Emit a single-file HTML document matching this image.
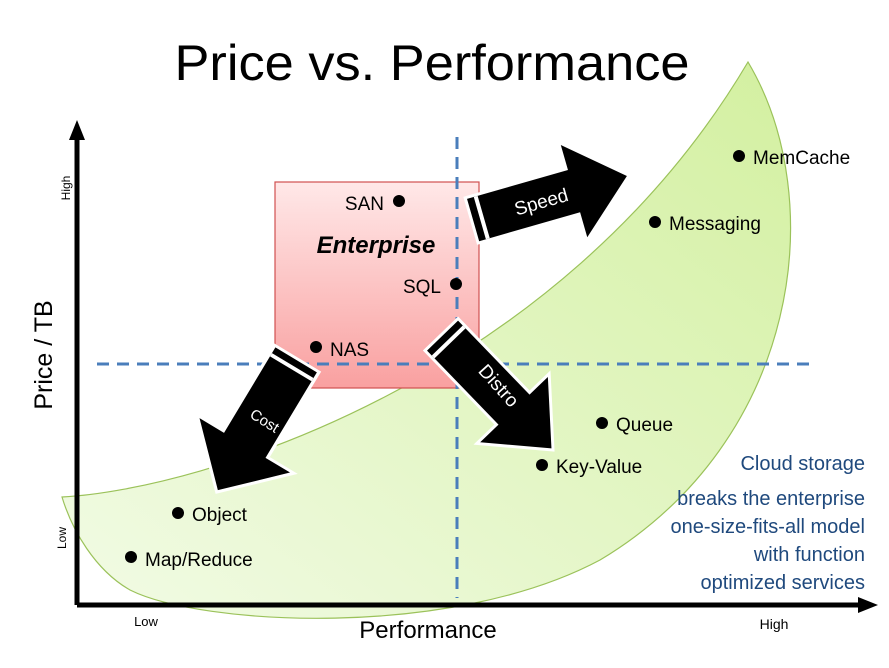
<!DOCTYPE html>
<html><head><meta charset="utf-8"><style>
html,body{margin:0;padding:0;background:#fff;}
svg{display:block;font-family:"Liberation Sans",sans-serif;}
</style></head><body>
<svg width="889" height="668" viewBox="0 0 889 668">
<defs>
<linearGradient id="g" x1="0" y1="1" x2="1" y2="0">
<stop offset="0" stop-color="#f2fbe6"/><stop offset="1" stop-color="#d3f0a0"/>
</linearGradient>
<linearGradient id="r" x1="0" y1="0" x2="0" y2="1">
<stop offset="0" stop-color="#ffe8e8"/><stop offset="1" stop-color="#f9a0a0"/>
</linearGradient>
<g id="arr">
<path d="M-80,-22 L25,-22 L25,-48 L80,0 L25,48 L25,22 L-80,22 Z" fill="#000" stroke="#fff" stroke-width="6" stroke-linejoin="miter"/>
<path d="M-80,-22 L25,-22 L25,-48 L80,0 L25,48 L25,22 L-80,22 Z" fill="#000"/>
<rect x="-73" y="-22" width="4" height="44" fill="#fff"/>
</g>
</defs>
<text x="432" y="80" font-size="50" text-anchor="middle" textLength="515" lengthAdjust="spacingAndGlyphs">Price vs. Performance</text>
<path d="M62,497 C200,490 560,380 748,62 C830,200 800,440 600,560 C450,640 200,625 130,590 C95,570 72,530 62,497 Z" fill="url(#g)" stroke="#9bc25a" stroke-width="1.2"/>
<rect x="275" y="182" width="204" height="206" fill="url(#r)" stroke="#d05050" stroke-width="1.2"/>
<line x1="457" y1="137" x2="457" y2="598" stroke="#4a7ebb" stroke-width="3" stroke-dasharray="12,8"/>
<line x1="97" y1="364" x2="812" y2="364" stroke="#4a7ebb" stroke-width="3" stroke-dasharray="12,8"/>
<line x1="77" y1="605" x2="77" y2="135" stroke="#000" stroke-width="5"/>
<polygon points="77,120 69,140 85,140" fill="#000"/>
<line x1="77" y1="605" x2="862" y2="605" stroke="#000" stroke-width="5"/>
<polygon points="878,605 858,597 858,613" fill="#000"/>
<use href="#arr" transform="translate(550,198) rotate(-16)"/>
<use href="#arr" transform="translate(497,392) rotate(46) scale(0.98)"/>
<use href="#arr" transform="translate(257,425) rotate(121) scale(0.95,1.1)"/>
<text x="0" y="0" font-size="19" fill="#fff" text-anchor="middle" transform="translate(543,208) rotate(-16)">Speed</text>
<text x="0" y="0" font-size="19" fill="#fff" text-anchor="middle" transform="translate(494,390) rotate(48)">Distro</text>
<text x="0" y="0" font-size="15" fill="#fff" text-anchor="middle" transform="translate(262,425) rotate(32)">Cost</text>
<text x="376" y="253" font-size="24" font-weight="bold" font-style="italic" text-anchor="middle">Enterprise</text>
<g fill="#000">
<circle cx="399" cy="201" r="6"/><circle cx="456" cy="284" r="6"/><circle cx="316" cy="347" r="6"/>
<circle cx="739" cy="156" r="6"/><circle cx="655" cy="222" r="6"/><circle cx="602" cy="423" r="6"/>
<circle cx="542" cy="465" r="6"/><circle cx="178" cy="513" r="6"/><circle cx="131" cy="557" r="6"/>
</g>
<g font-size="19">
<text x="384" y="210" text-anchor="end">SAN</text>
<text x="441" y="293" text-anchor="end">SQL</text>
<text x="330" y="356">NAS</text>
<text x="753" y="164">MemCache</text>
<text x="669" y="230">Messaging</text>
<text x="616" y="431">Queue</text>
<text x="556" y="473">Key-Value</text>
<text x="192" y="521">Object</text>
<text x="145" y="566">Map/Reduce</text>
</g>
<g font-size="20" fill="#1f497d" text-anchor="end">
<text x="865" y="470">Cloud storage</text>
<text x="865" y="505">breaks the enterprise</text>
<text x="865" y="533">one-size-fits-all model</text>
<text x="865" y="561">with function</text>
<text x="865" y="589">optimized services</text>
</g>
<text x="0" y="0" font-size="25" text-anchor="middle" transform="translate(52,355) rotate(-90)">Price / TB</text>
<text x="428" y="638" font-size="24" text-anchor="middle">Performance</text>
<text x="146" y="626" font-size="13" text-anchor="middle">Low</text>
<text x="774" y="629" font-size="14" text-anchor="middle">High</text>
<text x="0" y="0" font-size="12" text-anchor="middle" transform="translate(70,188) rotate(-90)">High</text>
<text x="0" y="0" font-size="12" text-anchor="middle" transform="translate(66,538) rotate(-90)">Low</text>
</svg>
</body></html>
